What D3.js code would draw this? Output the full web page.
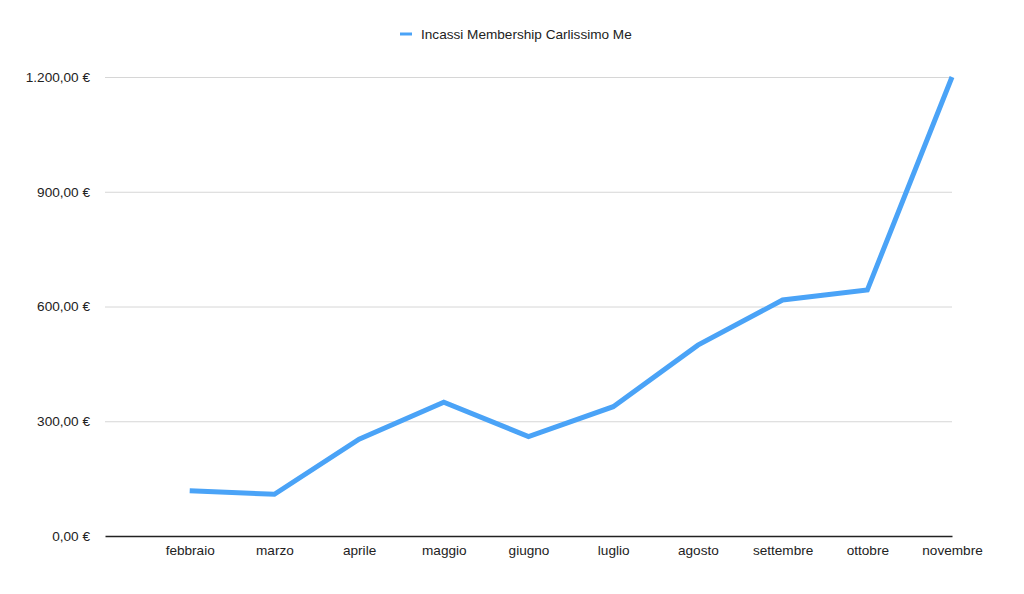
<!DOCTYPE html>
<html>
<head>
<meta charset="utf-8">
<script src="https://cdn.jsdelivr.net/npm/d3@7"></script>
<style>
  html, body { margin: 0; padding: 0; background: #fff; }
  svg { display: block; font-family: "Liberation Sans", Arial, Helvetica, sans-serif; }
</style>
</head>
<body>
<svg id="chart" width="1024" height="594"></svg>
<script>
const categories = ["", "febbraio", "marzo", "aprile", "maggio", "giugno", "luglio", "agosto", "settembre", "ottobre", "novembre"];
const seriesName = "Incassi Membership Carlissimo Me";
const values = [null, 118, 109, 253, 350, 260, 338, 499, 617, 643, 1200];
const yTicks = [0, 300, 600, 900, 1200];

const svg = d3.select("#chart");
const margin = { left: 105, right: 72, top: 77, bottom: 58 };
const W = 1024, H = 594;
const FS = 13.6;

const x = d3.scalePoint().domain(categories).range([margin.left, W - margin.right]);
const y = d3.scaleLinear().domain([0, 1200]).range([H - margin.bottom, margin.top]);

const fmt = v => {
  const s = d3.format(",.2f")(v);
  return s.replace(/,/g, "#").replace(/\./g, ",").replace(/#/g, ".") + " €";
};

// gridlines
svg.append("g")
  .attr("transform", `translate(${margin.left},0)`)
  .call(d3.axisLeft(y).tickValues(yTicks.filter(d => d > 0)).tickSize(-(W - margin.right - margin.left)).tickFormat(""))
  .call(g => g.select(".domain").remove())
  .call(g => g.selectAll(".tick line").attr("stroke", "#d6d6d6").attr("stroke-width", 1));

// y labels
svg.append("g")
  .attr("transform", `translate(${margin.left},0)`)
  .call(d3.axisLeft(y).tickValues(yTicks).tickSize(0).tickPadding(15).tickFormat(fmt))
  .call(g => g.select(".domain").remove())
  .call(g => g.selectAll(".tick text").attr("font-size", FS).attr("fill", "#222").attr("font-family", "Liberation Sans, Arial, sans-serif"));

// x axis
svg.append("g")
  .attr("transform", `translate(0,${y(0)})`)
  .call(d3.axisBottom(x).tickSize(0).tickPadding(9))
  .call(g => g.select(".domain").attr("stroke", "#222").attr("stroke-width", 1.5))
  .call(g => g.selectAll(".tick text").attr("font-size", FS).attr("fill", "#222").attr("font-family", "Liberation Sans, Arial, sans-serif"));

// line
const line = d3.line()
  .defined(d => d.v !== null)
  .x(d => x(d.c))
  .y(d => y(d.v));
const data = categories.map((c, i) => ({ c, v: values[i] }));
svg.append("path")
  .datum(data)
  .attr("fill", "none")
  .attr("stroke", "#4aa3f7")
  .attr("stroke-width", 5)
  .attr("stroke-linejoin", "miter")
  .attr("stroke-linecap", "butt")
  .attr("d", line);

// legend
const lg = svg.append("g").attr("transform", "translate(400,34)");
lg.append("line").attr("x1", 0).attr("x2", 12).attr("y1", 0).attr("y2", 0)
  .attr("stroke", "#4aa3f7").attr("stroke-width", 3);
lg.append("text").attr("x", 21).attr("y", 0).attr("dy", "0.35em")
  .attr("font-size", FS).attr("fill", "#222").text(seriesName);
</script>
</body>
</html>
